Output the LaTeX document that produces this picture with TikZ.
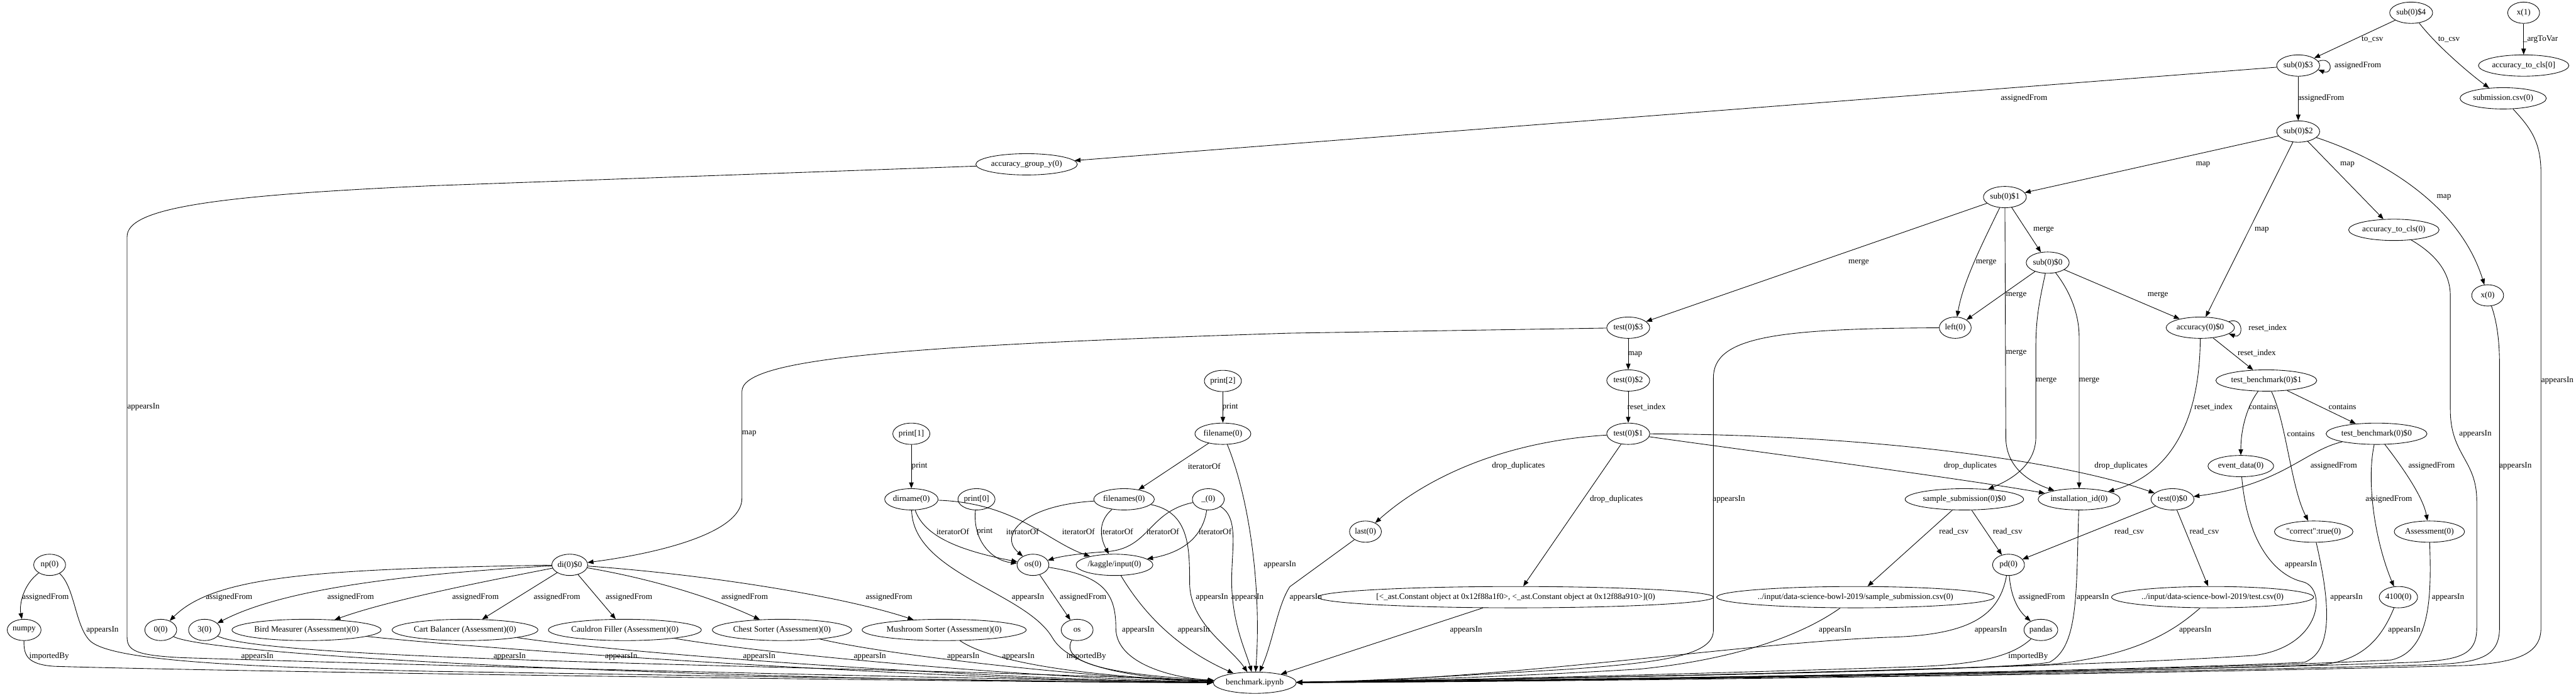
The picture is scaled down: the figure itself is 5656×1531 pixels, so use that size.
\documentclass[tikz,border=0pt]{standalone}
\usepackage{fontspec}
\setmainfont{Liberation Serif}[Ligatures=TeXOff]
\usetikzlibrary{shapes.geometric, arrows.meta}

\begin{document}
\begin{tikzpicture}[
  x=0.5pt, y=-0.5pt,
  font=\fontsize{9.1pt}{11pt}\selectfont,
  varnode/.style={
    draw=black,
    line width=0.6pt,
    ellipse,
    minimum width=35pt,
    minimum height=23.4pt,
    inner xsep=0.5pt,
    inner ysep=0pt
  },
  flow/.style={
    draw=black,
    line width=0.6pt,
    -{Triangle[length=6.5pt,width=5pt]}
  },
  lbl/.style={inner sep=0pt, text=black}
]
  \useasboundingbox (0,0) rectangle (5656,1531);

  % --- variable nodes, top to bottom ---
  \node[varnode] (sub4)     at (5294,28)   {sub(0)\$4};
  \node[varnode] (xone)     at (5541,28)   {x(1)};
  \node[varnode] (sub3)     at (5046,144)  {sub(0)\$3};
  \node[varnode] (clsarg)   at (5541,144)  {accuracy\_to\_cls[0]};
  \node[varnode] (subcsv)   at (5496,216)  {submission.csv(0)};
  \node[varnode] (sub2)     at (5046,289)  {sub(0)\$2};
  \node[varnode] (accgy)    at (2254,361)  {accuracy\_group\_y(0)};
  \node[varnode] (sub1)     at (4402,433)  {sub(0)\$1};
  \node[varnode] (acccls)   at (5256,505)  {accuracy\_to\_cls(0)};
  \node[varnode] (sub0)     at (4496,577)  {sub(0)\$0};
  \node[varnode] (xzero)    at (5462,649)  {x(0)};
  \node[varnode] (test3)    at (3575,720)  {test(0)\$3};
  \node[varnode] (leftdf)   at (4293,720)  {left(0)};
  \node[varnode] (acc0)     at (4831,720)  {accuracy(0)\$0};
  \node[varnode] (print2)   at (2685,837)  {print[2]};
  \node[varnode] (test2)    at (3575,836)  {test(0)\$2};
  \node[varnode] (tb1)      at (4976,836)  {test\_benchmark(0)\$1};
  \node[varnode] (print1)   at (2001,953)  {print[1]};
  \node[varnode] (fname)    at (2685,953)  {filename(0)};
  \node[varnode] (test1)    at (3575,953)  {test(0)\$1};
  \node[varnode] (tb0)      at (5218,953)  {test\_benchmark(0)\$0};
  \node[varnode] (evdata)   at (4920,1024) {event\_data(0)};
  \node[varnode] (dirname)  at (2001,1097) {dirname(0)};
  \node[varnode] (print0)   at (2144,1097) {print[0]};
  \node[varnode] (fnames)   at (2468,1097) {filenames(0)};
  \node[varnode] (under)    at (2653,1097) {\_(0)};
  \node[varnode] (sampsub)  at (4313,1097) {sample\_submission(0)\$0};
  \node[varnode] (instid)   at (4565,1097) {installation\_id(0)};
  \node[varnode] (test0)    at (4770,1097) {test(0)\$0};
  \node[varnode] (last)     at (2998,1168) {last(0)};
  \node[varnode] (correct)  at (5080,1168) {"correct":true(0)};
  \node[varnode] (assess)   at (5334,1168) {Assessment(0)};
  \node[varnode] (np)       at (109,1241)  {np(0)};
  \node[varnode] (di)       at (1251,1241) {di(0)\$0};
  \node[varnode] (oszero)   at (2268,1241) {os(0)};
  \node[varnode] (kaggle)   at (2447,1241) {/kaggle/input(0)};
  \node[varnode] (pdn)      at (4410,1241) {pd(0)};
  \node[varnode] (ast)      at (3328,1312) {[<\_ast.Constant object at 0x12f88a1f0>, <\_ast.Constant object at 0x12f88a910>](0)};
  \node[varnode] (sampcsv)  at (4074,1312) {../input/data-science-bowl-2019/sample\_submission.csv(0)};
  \node[varnode] (testcsv)  at (4858,1312) {../input/data-science-bowl-2019/test.csv(0)};
  \node[varnode] (n4100)    at (5266,1312) {4100(0)};
  \node[varnode] (numpy)    at (53,1384)   {numpy};
  \node[varnode] (zero)     at (353,1384)  {0(0)};
  \node[varnode] (three)    at (449,1384)  {3(0)};
  \node[varnode] (bird)     at (673,1384)  {Bird Measurer (Assessment)(0)};
  \node[varnode] (cart)     at (1021,1384) {Cart Balancer (Assessment)(0)};
  \node[varnode] (cauldron) at (1372,1384) {Cauldron Filler (Assessment)(0)};
  \node[varnode] (chest)    at (1717,1384) {Chest Sorter (Assessment)(0)};
  \node[varnode] (mush)     at (2073,1384) {Mushroom Sorter (Assessment)(0)};
  \node[varnode] (os)       at (2365,1384) {os};
  \node[varnode] (pandas)   at (4481,1384) {pandas};
  \node[varnode] (bench)    at (2755,1500) {benchmark.ipynb};

  % --- sub / accuracy chain ---
  \draw[flow] (sub4) -- (sub3) node[lbl] at (5209,87) {to\_csv};
  \draw[flow] (sub4) .. controls (5350,100) and (5420,160) .. (subcsv) node[lbl] at (5377,87) {to\_csv};
  \draw[flow] (xone) -- (clsarg) node[lbl] at (5578,87) {\_argToVar};
  \draw[flow] (sub3.12) .. controls ([shift={(33,-12)}]sub3.12) and ([shift={(33,12)}]sub3.-12) .. (sub3.-12)
    node[lbl] at (5177,144) {assignedFrom};
  \draw[flow] (sub3) -- (accgy) node[lbl] at (4444,216) {assignedFrom};
  \draw[flow] (sub3) -- (sub2) node[lbl] at (5096,216) {assignedFrom};
  \draw[flow] (sub2) -- (sub1) node[lbl] at (4837,361) {map};
  \draw[flow] (sub2) -- (acc0) node[lbl] at (4966,505) {map};
  \draw[flow] (sub2) -- (acccls) node[lbl] at (5154,361) {map};
  \draw[flow] (sub2) .. controls (5230,350) and (5400,450) .. (xzero) node[lbl] at (5366,433) {map};
  \draw[flow] (sub1) -- (test3) node[lbl] at (4081,577) {merge};
  \draw[flow] (sub1) .. controls (4350,540) and (4310,620) .. (leftdf) node[lbl] at (4361,577) {merge};
  \draw[flow] (sub1) -- (sub0) node[lbl] at (4487,505) {merge};
  \draw[flow] (sub1) -- (4404,960) .. controls (4404,1030) and (4460,1060) .. (instid) node[lbl] at (4427,776) {merge};
  \draw[flow] (sub0) -- (leftdf) node[lbl] at (4427,649) {merge};
  \draw[flow] (sub0) .. controls (4478,660) and (4470,700) .. (4470,760) -- (4470,960)
    .. controls (4470,1030) and (4400,1060) .. (sampsub) node[lbl] at (4493,836) {merge};
  \draw[flow] (sub0) .. controls (4545,640) and (4565,690) .. (4565,740) -- (instid) node[lbl] at (4587,836) {merge};
  \draw[flow] (sub0) -- (acc0) node[lbl] at (4738,649) {merge};
  \draw[flow] (acc0.12) .. controls ([shift={(33,-12)}]acc0.12) and ([shift={(33,12)}]acc0.-12) .. (acc0.-12)
    node[lbl] at (4979,720) {reset\_index};
  \draw[flow] (acc0) -- (tb1) node[lbl] at (4955,776) {reset\_index};
  \draw[flow] (acc0) .. controls (4830,960) and (4740,1050) .. (instid) node[lbl] at (4860,894) {reset\_index};
  \draw[flow] (tb1) .. controls (4935,890) and (4920,940) .. (evdata) node[lbl] at (4968,894) {contains};
  \draw[flow] (tb1) .. controls (5020,930) and (5030,1070) .. (correct) node[lbl] at (5052,953) {contains};
  \draw[flow] (tb1) -- (tb0) node[lbl] at (5143,894) {contains};
  \draw[flow] (tb0) .. controls (5060,990) and (5010,1065) .. (test0) node[lbl] at (5124,1024) {assignedFrom};
  \draw[flow] (tb0) .. controls (5195,1060) and (5215,1190) .. (n4100) node[lbl] at (5245,1097) {assignedFrom};
  \draw[flow] (tb0) .. controls (5270,1020) and (5320,1090) .. (assess) node[lbl] at (5339,1024) {assignedFrom};
  \draw[flow] (test0) -- (pdn) node[lbl] at (4675,1168) {read\_csv};
  \draw[flow] (test0) -- (testcsv) node[lbl] at (4840,1168) {read\_csv};
  \draw[flow] (sampsub) -- (sampcsv) node[lbl] at (4290,1168) {read\_csv};
  \draw[flow] (sampsub) -- (pdn) node[lbl] at (4408,1168) {read\_csv};
  \draw[flow] (pdn) .. controls (4415,1310) and (4430,1340) .. (pandas) node[lbl] at (4483,1312) {assignedFrom};

  % --- test chain ---
  \draw[flow] (test3) -- (test2) node[lbl] at (3590,779) {map};
  \draw[flow] (test3) -- (2830,732) .. controls (1950,760) and (1629,790) .. (1629,860) -- (1629,1095)
    .. controls (1629,1170) and (1450,1215) .. (di) node[lbl] at (1645,953) {map};
  \draw[flow] (test2) -- (test1) node[lbl] at (3615,894) {reset\_index};
  \draw[flow] (test1) .. controls (3300,970) and (3130,1050) .. (last) node[lbl] at (3334,1024) {drop\_duplicates};
  \draw[flow] (test1) -- (ast) node[lbl] at (3549,1097) {drop\_duplicates};
  \draw[flow] (test1) .. controls (3800,985) and (4300,1050) .. (instid) node[lbl] at (4326,1024) {drop\_duplicates};
  \draw[flow] (test1) .. controls (4100,955) and (4520,1010) .. (test0) node[lbl] at (4657,1024) {drop\_duplicates};

  % --- file listing loop ---
  \draw[flow] (print2) -- (fname) node[lbl] at (2701,894) {print};
  \draw[flow] (print1) -- (dirname) node[lbl] at (2019,1024) {print};
  \draw[flow] (fname) -- (fnames) node[lbl] at (2644,1024) {iteratorOf};
  \draw[flow] (dirname) .. controls (2030,1180) and (2110,1210) .. (oszero) node[lbl] at (2092,1168) {iteratorOf};
  \draw[flow] (dirname) .. controls (2230,1105) and (2300,1190) .. (kaggle) node[lbl] at (2368,1168) {iteratorOf};
  \draw[flow] (print0) .. controls (2135,1190) and (2180,1232) .. (oszero) node[lbl] at (2162,1168) {print};
  \draw[flow] (fnames) .. controls (2250,1110) and (2190,1175) .. (oszero) node[lbl] at (2245,1168) {iteratorOf};
  \draw[flow] (fnames) .. controls (2405,1150) and (2420,1190) .. (kaggle) node[lbl] at (2452,1168) {iteratorOf};
  \draw[flow] (under) .. controls (2520,1125) and (2525,1205) .. (2430,1212) .. controls (2370,1216) and (2330,1222) .. (oszero)
    node[lbl] at (2553,1168) {iteratorOf};
  \draw[flow] (under) .. controls (2640,1185) and (2590,1215) .. (kaggle) node[lbl] at (2668,1168) {iteratorOf};
  \draw[flow] (oszero) -- (os) node[lbl] at (2378,1312) {assignedFrom};
  \draw[flow] (np) .. controls (50,1285) and (42,1330) .. (numpy) node[lbl] at (100,1312) {assignedFrom};

  % --- di(0)$0 fan ---
  \draw[flow] (di) .. controls (700,1250) and (470,1265) .. (zero) node[lbl] at (503,1312) {assignedFrom};
  \draw[flow] (di) .. controls (820,1265) and (600,1305) .. (three) node[lbl] at (770,1312) {assignedFrom};
  \draw[flow] (di) .. controls (1050,1280) and (850,1320) .. (bird) node[lbl] at (1044,1312) {assignedFrom};
  \draw[flow] (di) -- (cart) node[lbl] at (1223,1312) {assignedFrom};
  \draw[flow] (di) -- (cauldron) node[lbl] at (1381,1312) {assignedFrom};
  \draw[flow] (di) .. controls (1450,1275) and (1580,1320) .. (chest) node[lbl] at (1635,1312) {assignedFrom};
  \draw[flow] (di) .. controls (1550,1262) and (1850,1310) .. (mush) node[lbl] at (1952,1312) {assignedFrom};

  % --- everything appears in the notebook: from the left ---
  \draw[flow] (accgy) -- (950,408) .. controls (450,430) and (279,460) .. (279,520) -- (279,1400)
    .. controls (279,1430) and (300,1440) .. (400,1445) .. controls (1200,1470) and (2300,1495) .. (bench)
    node[lbl] at (315,894) {appearsIn};
  \draw[flow] (np) .. controls (165,1290) and (165,1380) .. (200,1410) .. controls (250,1450) and (500,1465) .. (950,1475)
    .. controls (1800,1488) and (2300,1498) .. (bench) node[lbl] at (225,1384) {appearsIn};
  \draw[flow] (numpy) .. controls (52,1440) and (60,1460) .. (120,1464) .. controls (600,1478) and (2300,1500) .. (bench)
    node[lbl] at (108,1442) {importedBy};
  \draw[flow] (zero) .. controls (460,1440) and (1500,1495) .. (bench) node[lbl] at (565,1442) {appearsIn};
  \draw[flow] (three) .. controls (600,1455) and (1900,1462) .. (bench) node[lbl] at (1119,1442) {appearsIn};
  \draw[flow] (bird) .. controls (1100,1430) and (2100,1496) .. (bench) node[lbl] at (1364,1442) {appearsIn};
  \draw[flow] (cart) .. controls (1400,1440) and (2200,1494) .. (bench) node[lbl] at (1667,1442) {appearsIn};
  \draw[flow] (cauldron) .. controls (1700,1440) and (2300,1492) .. (bench) node[lbl] at (1910,1442) {appearsIn};
  \draw[flow] (chest) .. controls (1950,1440) and (2400,1490) .. (bench) node[lbl] at (2115,1442) {appearsIn};
  \draw[flow] (mush) .. controls (2170,1450) and (2350,1485) .. (bench) node[lbl] at (2236,1442) {appearsIn};
  \draw[flow] (dirname) .. controls (2005,1260) and (2250,1300) .. (2310,1400) .. controls (2350,1470) and (2500,1490) .. (bench)
    node[lbl] at (2257,1312) {appearsIn};
  \draw[flow] (os) .. controls (2325,1460) and (2450,1482) .. (bench) node[lbl] at (2385,1442) {importedBy};
  \draw[flow] (oszero) .. controls (2420,1265) and (2450,1300) .. (2450,1380) .. controls (2450,1460) and (2580,1490) .. (bench)
    node[lbl] at (2499,1384) {appearsIn};

  % --- from above ---
  \draw[flow] (kaggle) .. controls (2530,1380) and (2620,1440) .. (bench) node[lbl] at (2621,1384) {appearsIn};
  \draw[flow] (fnames) .. controls (2610,1125) and (2612,1200) .. (2612,1280) .. controls (2612,1370) and (2700,1420) .. (bench)
    node[lbl] at (2661,1312) {appearsIn};
  \draw[flow] (under) .. controls (2725,1140) and (2700,1220) .. (2705,1300) .. controls (2710,1380) and (2735,1430) .. (bench)
    node[lbl] at (2739,1312) {appearsIn};
  \draw[flow] (fname) .. controls (2745,1100) and (2770,1300) .. (bench) node[lbl] at (2810,1241) {appearsIn};
  \draw[flow] (last) -- (2832,1289) .. controls (2805,1330) and (2795,1410) .. (bench) node[lbl] at (2867,1312) {appearsIn};
  \draw[flow] (ast) -- (bench) node[lbl] at (3219,1384) {appearsIn};

  % --- from the right ---
  \draw[flow] (leftdf) .. controls (3900,722) and (3762,740) .. (3762,830) -- (3762,1385)
    .. controls (3762,1440) and (3650,1455) .. (3450,1470) .. controls (3200,1485) and (3000,1497) .. (bench)
    node[lbl] at (3796,1097) {appearsIn};
  \draw[flow] (sampcsv) .. controls (3950,1400) and (3800,1450) .. (3600,1470) .. controls (3300,1488) and (3000,1497) .. (bench)
    node[lbl] at (4029,1384) {appearsIn};
  \draw[flow] (pdn) .. controls (4390,1350) and (4330,1395) .. (4150,1400) .. controls (3850,1410) and (3300,1495) .. (bench)
    node[lbl] at (4371,1384) {appearsIn};
  \draw[flow] (pandas) .. controls (4420,1440) and (4350,1460) .. (4200,1465) .. controls (3800,1478) and (3200,1495) .. (bench)
    node[lbl] at (4453,1442) {importedBy};
  \draw[flow] (instid) .. controls (4558,1300) and (4565,1420) .. (4500,1455) .. controls (4400,1475) and (3300,1492) .. (bench)
    node[lbl] at (4595,1312) {appearsIn};
  \draw[flow] (testcsv) .. controls (4780,1380) and (4700,1440) .. (4500,1460) .. controls (4000,1480) and (3300,1493) .. (bench)
    node[lbl] at (4820,1384) {appearsIn};
  \draw[flow] (evdata) .. controls (4935,1200) and (5000,1265) .. (5055,1278) .. controls (5110,1290) and (5100,1420) .. (4950,1440)
    .. controls (4500,1470) and (3300,1494) .. (bench) node[lbl] at (5052,1241) {appearsIn};
  \draw[flow] (correct) .. controls (5115,1320) and (5125,1430) .. (5060,1455) .. controls (4600,1478) and (3300,1495) .. (bench)
    node[lbl] at (5152,1312) {appearsIn};
  \draw[flow] (n4100) .. controls (5230,1400) and (5190,1450) .. (5100,1460) .. controls (4600,1480) and (3300,1496) .. (bench)
    node[lbl] at (5279,1384) {appearsIn};
  \draw[flow] (assess) .. controls (5338,1300) and (5340,1430) .. (5250,1450) .. controls (4700,1478) and (3300,1496) .. (bench)
    node[lbl] at (5375,1312) {appearsIn};
  \draw[flow] (acccls) .. controls (5350,560) and (5380,600) .. (5380,650) -- (5380,900)
    .. controls (5380,1000) and (5438,1010) .. (5438,1100) -- (5438,1380)
    .. controls (5438,1440) and (5400,1450) .. (5300,1455) .. controls (4700,1478) and (3300,1497) .. (bench)
    node[lbl] at (5435,953) {appearsIn};
  \draw[flow] (xzero) .. controls (5480,700) and (5488,740) .. (5488,800) -- (5488,1380)
    .. controls (5488,1445) and (5440,1455) .. (5350,1460) .. controls (4700,1480) and (3300,1498) .. (bench)
    node[lbl] at (5523,1024) {appearsIn};
  \draw[flow] (subcsv) .. controls (5555,280) and (5579,310) .. (5579,380) -- (5579,1380)
    .. controls (5579,1440) and (5520,1455) .. (5420,1462) .. controls (4700,1482) and (3300,1499) .. (bench)
    node[lbl] at (5615,836) {appearsIn};

\end{tikzpicture}
\end{document}
